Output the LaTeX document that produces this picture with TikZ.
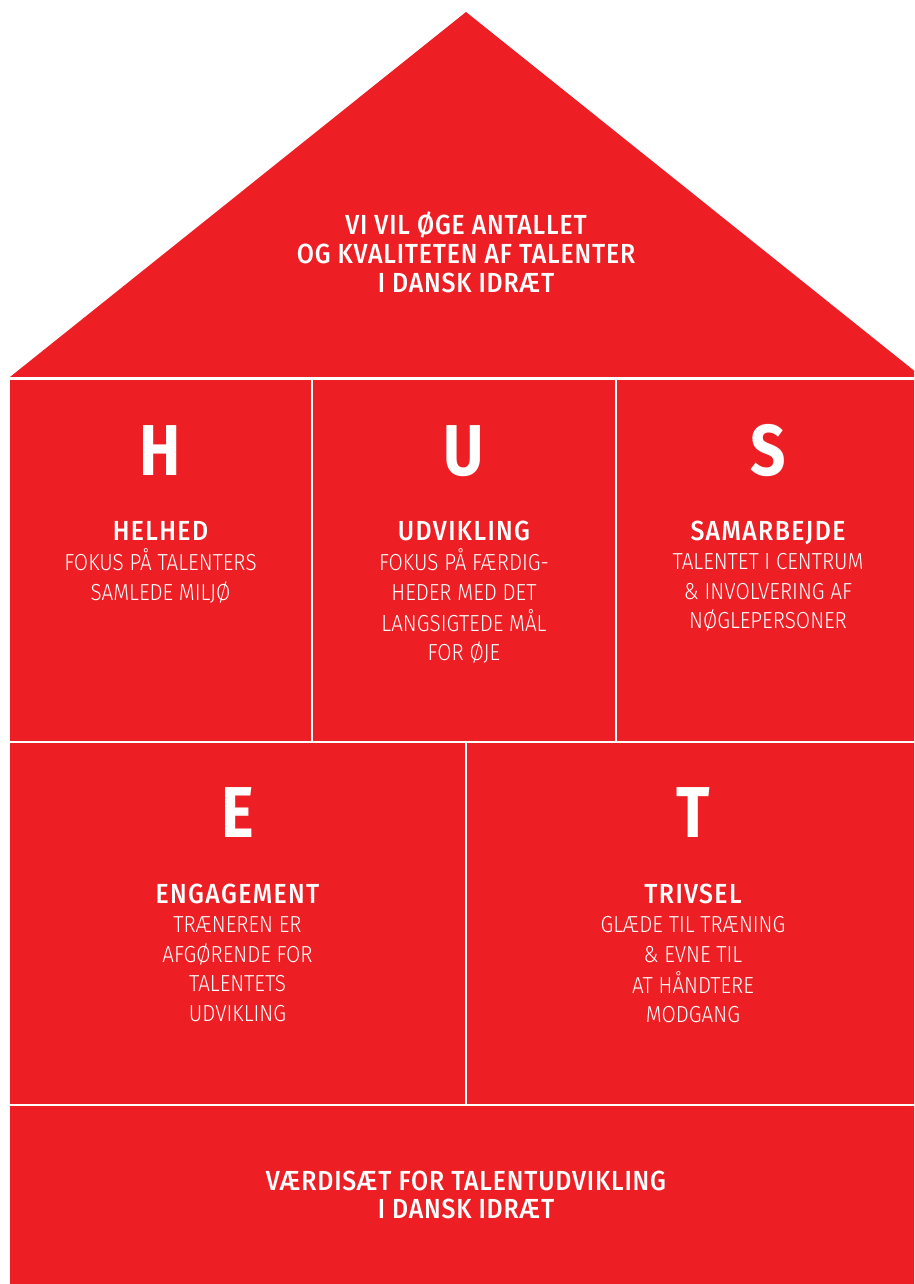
\documentclass[tikz,border=0pt]{standalone}
\usepackage{fontspec}
\setmainfont{Fira Sans}[FakeStretch=0.86]
\newfontfamily\lightfont{Fira Sans Light}[FakeStretch=0.89]
\newfontfamily\midfont{Fira Sans Medium}[FakeStretch=0.9, LetterSpace=5]
\newfontfamily\headfont{Fira Sans Medium}[FakeStretch=0.9, LetterSpace=3]
\usetikzlibrary{positioning}
\definecolor{husred}{HTML}{ED1F24}

\begin{document}
\begin{tikzpicture}[x=0.02cm, y=-0.02cm,
	every node/.style={text=white, inner sep=0pt, anchor=base},
	letter/.style={font=\fontsize{41}{41}\selectfont\bfseries},
	divider/.style={draw=white, line width=1.4pt}]
	\useasboundingbox[fill=white] (0,0) rectangle (914,1284);
	% roof and walls
	\fill[husred] (10,377) -- (466,12) -- (914,370.6) -- (914,1284) -- (10,1284) -- cycle;
	\draw[divider] (10,378.5) -- (914,378.5);
	\draw[divider] (10,742) -- (914,742);
	\draw[divider] (10,1105) -- (914,1105);
	\draw[divider] (312,380) -- (312,741);
	\draw[divider] (616,380) -- (616,741);
	\draw[divider] (466,743) -- (466,1104);
	% roof text
	\node[font=\headfont\fontsize{15.7}{16.4}\selectfont] (goal) at (466,235)
		{\begin{tabular}[t]{@{}c@{}}VI VIL ØGE ANTALLET\\OG KVALITETEN AF TALENTER\\I DANSK IDRÆT\end{tabular}};
	% first floor
	\node[letter] (h) at (160.5,475) {H};
	\node[font=\lightfont\fontsize{13.2}{16.84}\selectfont] (helhed) at (160.5,540)
		{\begin{tabular}[t]{@{}c@{}}{\midfont\fontsize{15.7}{16.84}\selectfont HELHED}\\FOKUS PÅ TALENTERS\\SAMLEDE MILJØ\end{tabular}};
	\node[letter] (u) at (464,475) {U};
	\node[font=\lightfont\fontsize{13.2}{16.84}\selectfont] (udvikling) at (464,540)
		{\begin{tabular}[t]{@{}c@{}}{\midfont\fontsize{15.7}{16.84}\selectfont UDVIKLING}\\FOKUS PÅ FÆRDIG-\\HEDER MED DET\\LANGSIGTEDE MÅL\\FOR ØJE\end{tabular}};
	\node[letter] (s) at (768,475) {S};
	\node[font=\lightfont\fontsize{13.2}{16.84}\selectfont] (samarbejde) at (768,540)
		{\begin{tabular}[t]{@{}c@{}}{\midfont\fontsize{15.7}{16.84}\selectfont SAMARBEJDE}\\TALENTET I CENTRUM\\\& INVOLVERING AF\\NØGLEPERSONER\end{tabular}};
	% second floor
	\node[letter] (e) at (237.5,837) {E};
	\node[font=\lightfont\fontsize{13.2}{16.84}\selectfont] (engagement) at (237.5,903)
		{\begin{tabular}[t]{@{}c@{}}{\midfont\fontsize{15.7}{16.84}\selectfont ENGAGEMENT}\\TRÆNEREN ER\\AFGØRENDE FOR\\TALENTETS\\UDVIKLING\end{tabular}};
	\node[letter] (t) at (693,837) {T};
	\node[font=\lightfont\fontsize{13.2}{16.84}\selectfont] (trivsel) at (693,903)
		{\begin{tabular}[t]{@{}c@{}}{\midfont\fontsize{15.7}{16.84}\selectfont TRIVSEL}\\GLÆDE TIL TRÆNING\\\& EVNE TIL\\AT HÅNDTERE\\MODGANG\end{tabular}};
	% foundation
	\node[font=\headfont\fontsize{15.7}{16.4}\selectfont] (base) at (466,1190)
		{\begin{tabular}[t]{@{}c@{}}VÆRDISÆT FOR TALENTUDVIKLING\\I DANSK IDRÆT\end{tabular}};
\end{tikzpicture}
\end{document}
